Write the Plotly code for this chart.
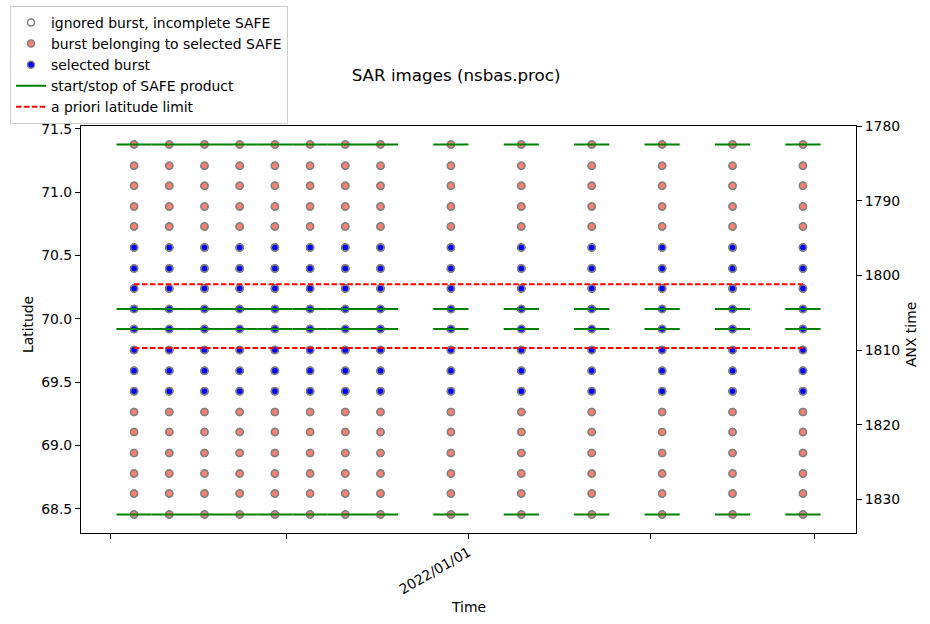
import plotly.graph_objects as go
from datetime import datetime, timedelta

# ---------------- data ----------------
acq_dates = ["2021-11-05", "2021-11-11", "2021-11-17", "2021-11-23", "2021-11-29",
             "2021-12-05", "2021-12-11", "2021-12-17", "2021-12-29", "2022-01-10",
             "2022-01-22", "2022-02-03", "2022-02-15", "2022-02-27"]
burst_lat = [71.376, 71.209, 71.051, 70.886, 70.728, 70.563, 70.398, 70.240, 70.077,
             69.920, 69.754, 69.589, 69.429, 69.264, 69.106, 68.941, 68.778, 68.620, 68.455]
burst_anx = [1782.45, 1785.30, 1787.98, 1790.79, 1793.46, 1796.27, 1799.08, 1801.76, 1804.53,
             1807.21, 1810.02, 1812.83, 1815.55, 1818.36, 1821.03, 1823.84, 1826.61, 1829.29, 1832.10]
selected_rows = [5, 6, 7, 8, 9, 10, 11, 12]
safe_lat_bounds = [71.376, 70.077, 69.920, 68.455]   # start/stop latitude of the SAFE products
safe_half_duration_days = 3
lat_limits = [70.273, 69.770]
x_tick_vals = ["2021-11-01", "2021-12-01", "2022-01-01", "2022-02-01", "2022-03-01"]
x_tick_text = ["", "", "2022/01/01", "", ""]

FONT = "DejaVu Sans"
GRAY = "#808080"

fig = go.Figure()

# all bursts (ignored, drawn underneath)
xs, ys = [], []
for d in acq_dates:
    for lat in burst_lat:
        xs.append(d)
        ys.append(lat)
fig.add_trace(go.Scatter(x=xs, y=ys, mode="markers", name="ignored burst, incomplete SAFE",
                         marker=dict(size=7, color="white", line=dict(color=GRAY, width=1.5))))
# bursts belonging to selected SAFE
fig.add_trace(go.Scatter(x=xs, y=ys, mode="markers", name="burst belonging to selected SAFE",
                         marker=dict(size=7, color="#FA8072", line=dict(color=GRAY, width=1.5))))
# selected bursts
sx, sy = [], []
for d in acq_dates:
    for r in selected_rows:
        sx.append(d)
        sy.append(burst_lat[r])
fig.add_trace(go.Scatter(x=sx, y=sy, mode="markers", name="selected burst",
                         marker=dict(size=7, color="#0000FF", line=dict(color=GRAY, width=1.5))))

# start/stop of SAFE products
gx, gy = [], []
for d in acq_dates:
    t = datetime.fromisoformat(d)
    t0 = t - timedelta(days=safe_half_duration_days)
    t1 = t + timedelta(days=safe_half_duration_days)
    for lat in safe_lat_bounds:
        gx += [t0, t1, None]
        gy += [lat, lat, None]
fig.add_trace(go.Scatter(x=gx, y=gy, mode="lines", name="start/stop of SAFE product",
                         line=dict(color="#008000", width=2)))

# a priori latitude limits
rx, ry = [], []
for lim in lat_limits:
    rx += [acq_dates[0], acq_dates[-1], None]
    ry += [lim, lim, None]
fig.add_trace(go.Scatter(x=rx, y=ry, mode="lines", name="a priori latitude limit",
                         line=dict(color="#FF0000", width=2, dash="5.5px,2.4px")))

# invisible trace for ANX time axis
fig.add_trace(go.Scatter(x=[acq_dates[0]] * len(burst_anx), y=burst_anx, yaxis="y2",
                         mode="markers", marker=dict(opacity=0), showlegend=False,
                         hoverinfo="skip"))

axis_common = dict(showline=True, linecolor="black", linewidth=1, ticks="outside",
                   ticklen=5, tickwidth=1, tickcolor="black", showgrid=False,
                   zeroline=False, automargin=False,
                   tickfont=dict(family=FONT, size=13.9, color="black"))

fig.update_layout(
    width=930, height=624,
    margin=dict(l=81, r=74, t=126, b=91, autoexpand=False),
    plot_bgcolor="white", paper_bgcolor="white",
    font=dict(family=FONT, size=13.9, color="black"),
    title=dict(text="SAR images (nsbas.proc)", x=0.484, xref="paper", xanchor="center",
               y=1 - 75 / 624, yref="container", yanchor="middle",
               font=dict(family=FONT, size=16.7, color="black")),
    xaxis=dict(type="date", range=["2021-10-26 22:55", "2022-03-08 01:00"],
               tickvals=x_tick_vals, ticktext=x_tick_text, tickangle=-30,
               mirror=True, **axis_common),
    yaxis=dict(range=[68.309, 71.522], tickvals=[68.5, 69.0, 69.5, 70.0, 70.5, 71.0, 71.5],
               ticktext=["68.5", "69.0", "69.5", "70.0", "70.5", "71.0", "71.5"],
               mirror=True, **axis_common),
    yaxis2=dict(overlaying="y", side="right", range=[1834.47, 1780.0],
                tickvals=[1780, 1790, 1800, 1810, 1820, 1830], **axis_common),
    showlegend=True,
    legend=dict(x=10 / 930, y=1 - 6 / 624, xref="container", yref="container",
                xanchor="left", yanchor="top",
                bgcolor="white", bordercolor="#cccccc", borderwidth=1,
                font=dict(family=FONT, size=13.9, color="black"), traceorder="normal"),
    annotations=[
        dict(text="Time", x=0.5, y=-74 / 407, xref="paper", yref="paper",
             xanchor="center", yanchor="middle", showarrow=False,
             font=dict(family=FONT, size=13.9, color="black")),
        dict(text="Latitude", x=(28 - 81) / 775, y=(533 - 325) / 407, xref="paper", yref="paper",
             xanchor="center", yanchor="middle", showarrow=False, textangle=-90,
             font=dict(family=FONT, size=13.9, color="black")),
        dict(text="ANX time", x=(911 - 81) / 775, y=(533 - 335) / 407, xref="paper", yref="paper",
             xanchor="center", yanchor="middle", showarrow=False, textangle=-90,
             font=dict(family=FONT, size=13.9, color="black")),
    ],
)

fig.write_html("out.html", config={"displayModeBar": False},
               post_script="document.body.style.margin='0';document.body.style.padding='0';")
